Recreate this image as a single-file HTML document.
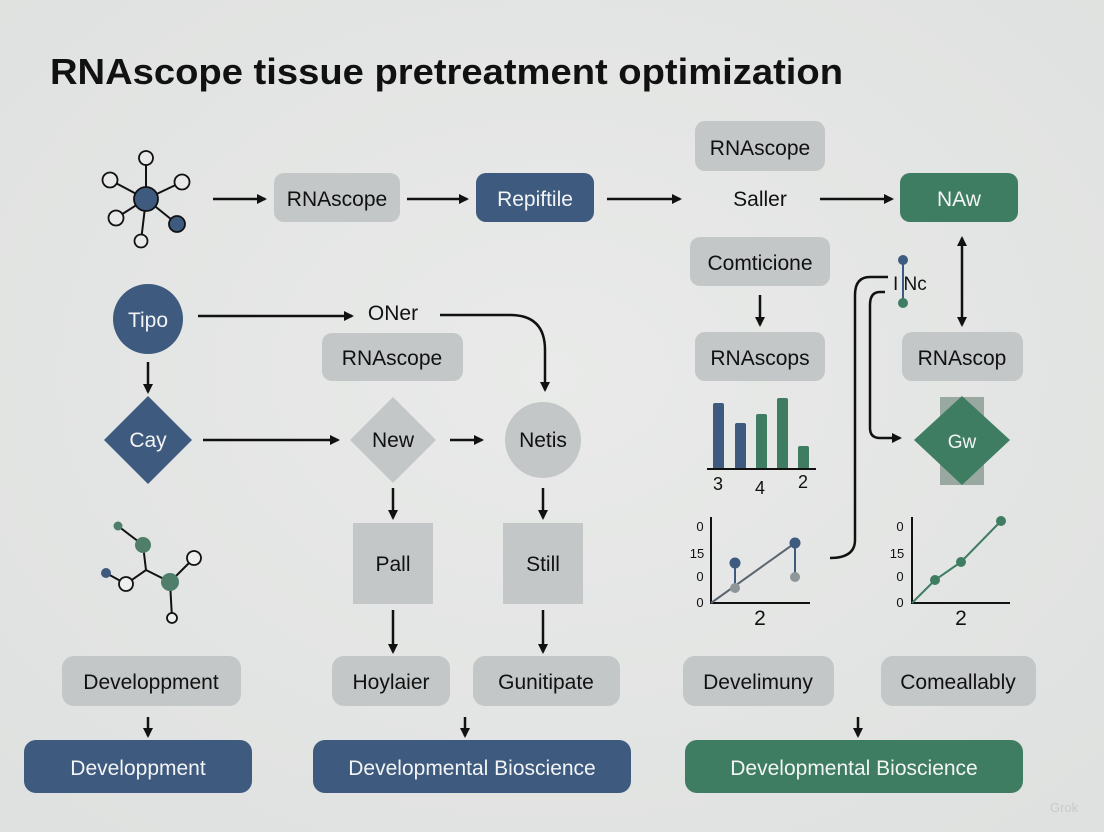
<!DOCTYPE html>
<html><head><meta charset="utf-8"><style>
html,body{margin:0;padding:0;background:#e4e6e5;}
svg{display:block;font-family:"Liberation Sans",sans-serif;}
</style></head><body>
<svg width="1104" height="832" viewBox="0 0 1104 832" xmlns="http://www.w3.org/2000/svg">
<defs>
<marker id="a" markerWidth="10" markerHeight="10" refX="8" refY="5" orient="auto" markerUnits="userSpaceOnUse"><path d="M0,0 L10,5 L0,10 z" fill="#111"/></marker>
<marker id="b" markerWidth="10" markerHeight="10" refX="2" refY="5" orient="auto" markerUnits="userSpaceOnUse"><path d="M10,0 L0,5 L10,10 z" fill="#111"/></marker>
<radialGradient id="bg" cx="50%" cy="45%" r="70%"><stop offset="0" stop-color="#e9eae9"/><stop offset="1" stop-color="#dfe1e0"/></radialGradient>
</defs>
<rect width="1104" height="832" fill="url(#bg)"/>
<text x="50" y="84" font-size="36" font-weight="bold" fill="#111" textLength="793" lengthAdjust="spacingAndGlyphs">RNAscope tissue pretreatment optimization</text>

<g stroke="#111" stroke-width="2" fill="none">
<line x1="146" y1="199" x2="146" y2="158"/><line x1="146" y1="199" x2="110" y2="180"/><line x1="146" y1="199" x2="182" y2="182"/><line x1="146" y1="199" x2="116" y2="218"/><line x1="146" y1="199" x2="177" y2="224"/><line x1="146" y1="199" x2="141" y2="241"/>
<polyline points="118,526 143,545 146,570"/><polyline points="106,573 126,584 146,570 170,582 194,558"/><line x1="170" y1="582" x2="172" y2="618"/>
</g>
<g stroke="#111" stroke-width="1.8">
<circle cx="146" cy="199" r="12" fill="#3e5a7e"/>
<circle cx="146" cy="158" r="7" fill="#e8e9e8"/><circle cx="110" cy="180" r="7.5" fill="#e8e9e8"/><circle cx="182" cy="182" r="7.5" fill="#e8e9e8"/><circle cx="116" cy="218" r="7.5" fill="#e8e9e8"/><circle cx="177" cy="224" r="8" fill="#3e5a7e"/><circle cx="141" cy="241" r="6.5" fill="#e8e9e8"/>
<circle cx="118" cy="526" r="4.5" fill="#4f7e6b" stroke="none"/><circle cx="143" cy="545" r="8" fill="#4f7e6b" stroke="none"/><circle cx="106" cy="573" r="5" fill="#3e5a7e" stroke="none"/><circle cx="126" cy="584" r="7" fill="#eef0ee"/><circle cx="170" cy="582" r="9" fill="#4f7e6b" stroke="none"/><circle cx="194" cy="558" r="7" fill="#eef0ee"/><circle cx="172" cy="618" r="5" fill="#eef0ee"/>
</g>

<g stroke="#111" stroke-width="2.5" fill="none" marker-end="url(#a)">
<line x1="213" y1="199" x2="265" y2="199"/>
<line x1="407" y1="199" x2="467" y2="199"/>
<line x1="607" y1="199" x2="680" y2="199"/>
<line x1="820" y1="199" x2="892" y2="199"/>
<line x1="962" y1="238" x2="962" y2="325" marker-start="url(#b)"/>
<line x1="760" y1="295" x2="760" y2="325"/>
<line x1="198" y1="316" x2="352" y2="316"/>
<path d="M440,315 H510 Q545,315 545,350 V390"/>
<line x1="148" y1="362" x2="148" y2="392"/>
<line x1="203" y1="440" x2="338" y2="440"/>
<line x1="450" y1="440" x2="482" y2="440"/>
<line x1="393" y1="488" x2="393" y2="518"/>
<line x1="543" y1="488" x2="543" y2="518"/>
<line x1="393" y1="610" x2="393" y2="652"/>
<line x1="543" y1="610" x2="543" y2="652"/>
<line x1="148" y1="717" x2="148" y2="736"/>
<line x1="465" y1="717" x2="465" y2="736"/>
<line x1="858" y1="717" x2="858" y2="736"/>
<path d="M885,292 H880 Q870,292 870,305 V428 Q870,438 880,438 H900"/>
<path d="M830,558 Q855,558 855,540 V295 Q855,277 870,277 H888" marker-end="none"/>
</g>

<g fill="#c3c7c7">
<rect x="274" y="173" width="126" height="49" rx="10"/>
<rect x="695" y="121" width="130" height="50" rx="10"/>
<rect x="690" y="237" width="140" height="49" rx="10"/>
<rect x="695" y="332" width="130" height="49" rx="10"/>
<rect x="902" y="332" width="121" height="49" rx="10"/>
<rect x="322" y="333" width="141" height="48" rx="10"/>
<rect x="353" y="523" width="80" height="81"/>
<rect x="503" y="523" width="80" height="81"/>
<rect x="62" y="656" width="179" height="50" rx="12"/>
<rect x="332" y="656" width="118" height="50" rx="12"/>
<rect x="473" y="656" width="147" height="50" rx="12"/>
<rect x="683" y="656" width="151" height="50" rx="12"/>
<rect x="881" y="656" width="155" height="50" rx="12"/>
<polygon points="393,397 436,440 393,483 350,440"/>
<circle cx="543" cy="440" r="38"/>
</g>
<g fill="#3e5a7e">
<rect x="476" y="173" width="118" height="49" rx="10"/>
<circle cx="148" cy="319" r="35"/>
<polygon points="148,396 192,440 148,484 104,440"/>
<rect x="24" y="740" width="228" height="53" rx="12"/>
<rect x="313" y="740" width="318" height="53" rx="12"/>
</g>
<g fill="#3f7d62">
<rect x="900" y="173" width="118" height="49" rx="10"/>
<rect x="685" y="740" width="338" height="53" rx="12"/>
</g>
<rect x="940" y="397" width="44" height="88" fill="#9aa8a2"/>
<polygon points="962,396 1010,440 962,485 914,440" fill="#3f7d62"/>

<line x1="903" y1="260" x2="903" y2="303" stroke="#3e5a7e" stroke-width="2"/>
<circle cx="903" cy="260" r="5" fill="#3e5a7e"/><circle cx="903" cy="303" r="5" fill="#3f7d62"/>
<text x="893" y="290" font-size="19" fill="#111">I Nc</text>

<g fill="#3e5a7e"><rect x="713" y="403" width="11" height="66" rx="2"/><rect x="735" y="423" width="11" height="46" rx="2"/></g>
<g fill="#3f7d62"><rect x="756" y="414" width="11" height="55" rx="2"/><rect x="777" y="398" width="11" height="71" rx="2"/><rect x="798" y="446" width="11" height="23" rx="2"/></g>
<line x1="707" y1="469" x2="816" y2="469" stroke="#111" stroke-width="2"/>
<g font-size="18" fill="#111" text-anchor="middle"><text x="718" y="490">3</text><text x="760" y="494">4</text><text x="803" y="488">2</text></g>

<g stroke="#111" stroke-width="2" fill="none"><polyline points="711,517 711,603 810,603"/><polyline points="912,517 912,603 1010,603"/></g>
<g font-size="13" fill="#111" text-anchor="middle">
<text x="700" y="531">0</text><text x="697" y="558">15</text><text x="700" y="581">0</text><text x="700" y="607">0</text>
<text x="900" y="531">0</text><text x="897" y="558">15</text><text x="900" y="581">0</text><text x="900" y="607">0</text>
</g>
<g font-size="21" fill="#111" text-anchor="middle"><text x="760" y="625">2</text><text x="961" y="625">2</text></g>
<polyline points="711,603 795,543" stroke="#5b6570" stroke-width="2" fill="none"/>
<line x1="735" y1="563" x2="735" y2="588" stroke="#3e5a7e" stroke-width="2"/><line x1="795" y1="543" x2="795" y2="577" stroke="#3e5a7e" stroke-width="2"/>
<circle cx="735" cy="563" r="5.5" fill="#3e5a7e"/><circle cx="735" cy="588" r="5" fill="#8e9699"/><circle cx="795" cy="543" r="5.5" fill="#3e5a7e"/><circle cx="795" cy="577" r="5" fill="#8e9699"/>
<polyline points="912,603 935,580 961,562 1001,521" stroke="#3f7d62" stroke-width="2" fill="none"/>
<circle cx="935" cy="580" r="5" fill="#3f7d62"/><circle cx="961" cy="562" r="5" fill="#3f7d62"/><circle cx="1001" cy="521" r="5" fill="#3f7d62"/>

<g font-size="21" text-anchor="middle" fill="#111">
<text x="337" y="206">RNAscope</text>
<text x="760" y="155">RNAscope</text>
<text x="760" y="206">Saller</text>
<text x="760" y="270">Comticione</text>
<text x="760" y="365">RNAscops</text>
<text x="962" y="365">RNAscop</text>
<text x="393" y="320">ONer</text>
<text x="392" y="365">RNAscope</text>
<text x="393" y="447">New</text>
<text x="543" y="447">Netis</text>
<text x="393" y="571">Pall</text>
<text x="543" y="571">Still</text>
<text x="151" y="689">Developpment</text>
<text x="391" y="689">Hoylaier</text>
<text x="546" y="689">Gunitipate</text>
<text x="758" y="689">Develimuny</text>
<text x="958" y="689">Comeallably</text>
</g>
<g font-size="21" text-anchor="middle" fill="#f2f4f5">
<text x="535" y="206">Repiftile</text>
<text x="959" y="206">NAw</text>
<text x="148" y="327">Tipo</text>
<text x="148" y="447">Cay</text>
<text x="962" y="448" font-size="19">Gw</text>
<text x="138" y="775">Developpment</text>
<text x="472" y="775">Developmental Bioscience</text>
<text x="854" y="775">Developmental Bioscience</text>
</g>
<text x="1050" y="812" font-size="13" fill="#c8cbca">Grok</text>
</svg>
</body></html>
